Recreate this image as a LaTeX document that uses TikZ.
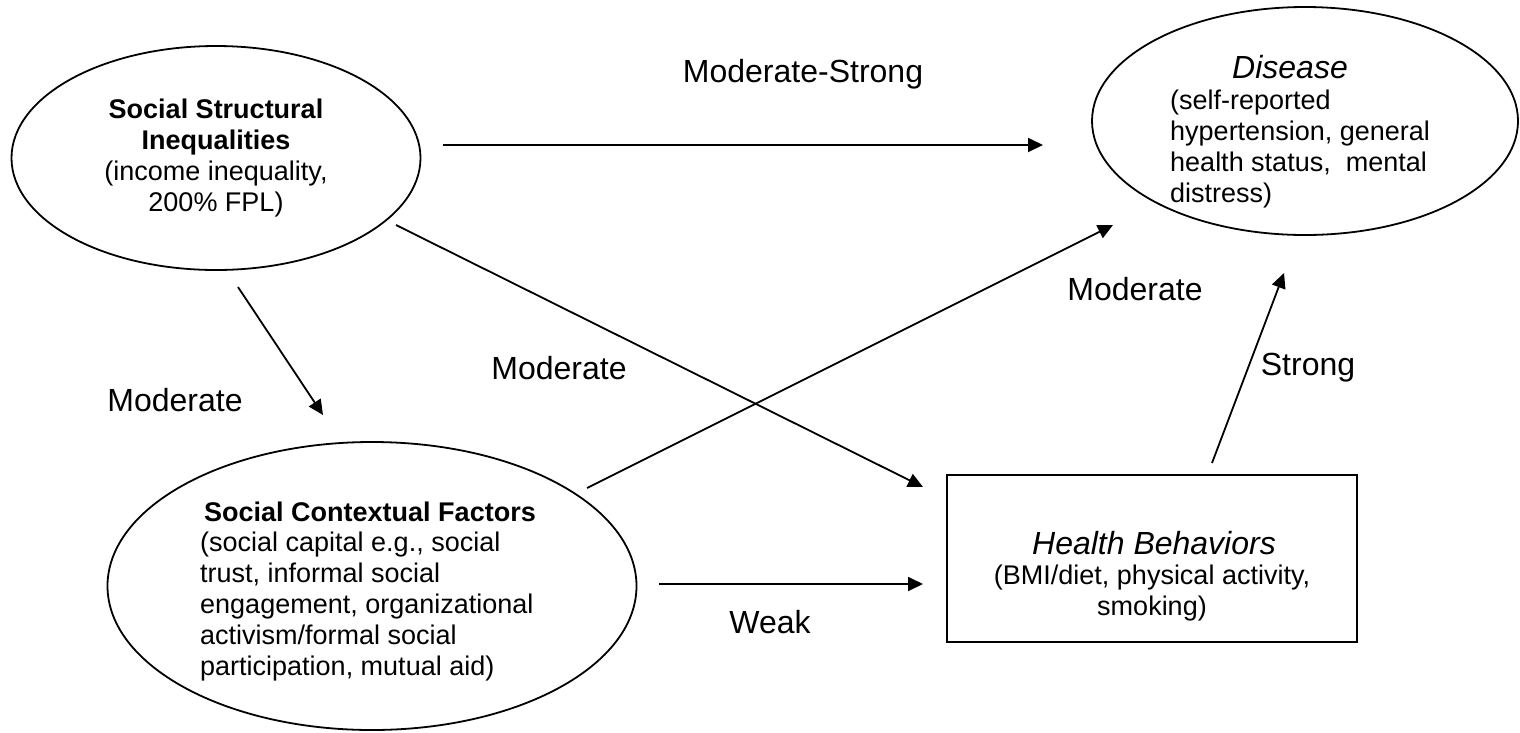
\documentclass[tikz,border=0pt]{standalone}
\usepackage{fontspec}
\setmainfont{Liberation Sans}
\usetikzlibrary{arrows.meta,shapes.geometric}
\begin{document}
\begin{tikzpicture}[x=1pt,y=-1pt,
  shapeline/.style={draw=black, line width=1.8pt},
  oval/.style={shapeline, ellipse, inner sep=0pt},
  boxshape/.style={shapeline, rectangle, inner sep=0pt},
  arr/.style={line width=1.8pt, -{Triangle[length=15pt,width=14pt]}},
  lbl/.style={inner sep=0pt, font=\fontsize{32}{38}\selectfont},
  body/.style={inner sep=0pt, font=\fontsize{27}{31}\selectfont},
  title/.style={inner sep=0pt, font=\fontsize{32}{38}\selectfont\itshape},
]
\useasboundingbox (0,0) rectangle (1520,732);

% shapes
\node[oval, minimum width=409pt, minimum height=224pt] (ssi) at (216,158) {};
\node[oval, minimum width=426pt, minimum height=228pt] (dis) at (1305,121) {};
\node[oval, minimum width=529pt, minimum height=288pt] (scf) at (372,586) {};
\node[boxshape, minimum width=410pt, minimum height=167pt] (hb) at (1152,558.5) {};

% texts
\node[body, align=center] (ssitext) at (216,158)
  {\textbf{Social Structural}\\\textbf{Inequalities}\\(income inequality,\\200\% FPL)};
\node[title] (distitle) at (1290,67) {Disease};
\node[body, align=left, anchor=north west] (distext) at (1170,90)
  {(self-reported\\hypertension, general\\health status,\ \ mental\\distress)};
\node[body, font=\fontsize{27}{31}\selectfont\bfseries] (scftitle) at (370,512) {Social Contextual Factors};
\node[body, align=left, anchor=north west] (scftext) at (200,532)
  {(social capital e.g., social\\trust, informal social\\engagement, organizational\\activism/formal social\\participation, mutual aid)};
\node[title] (hbtitle) at (1154,543) {Health Behaviors};
\node[body, align=center, anchor=north] (hbtext) at (1152,565)
  {(BMI/diet, physical activity,\\smoking)};

% connector end points
\coordinate (a1s) at (443,145);  \coordinate (a1e) at (1043,145);
\coordinate (a2s) at (396,225);  \coordinate (a2e) at (923,487);
\coordinate (a3s) at (238,287);  \coordinate (a3e) at (323,415);
\coordinate (a4s) at (587,488);  \coordinate (a4e) at (1113,225);
\coordinate (a5s) at (659,584);  \coordinate (a5e) at (923,584);
\coordinate (a6s) at (1212,463); \coordinate (a6e) at (1284,273);

\draw[arr] (a1s) -- (a1e);
\draw[arr] (a2s) -- (a2e);
\draw[arr] (a3s) -- (a3e);
\draw[arr] (a4s) -- (a4e);
\draw[arr] (a5s) -- (a5e);
\draw[arr] (a6s) -- (a6e);

% labels
\node[lbl] (l1) at (803,74) {Moderate-Strong};
\node[lbl] (l2) at (559,368) {Moderate};
\node[lbl] (l3) at (175,400) {Moderate};
\node[lbl] (l4) at (1135,289) {Moderate};
\node[lbl] (l5) at (770,622) {Weak};
\node[lbl] (l6) at (1308,368) {Strong};
\end{tikzpicture}
\end{document}
